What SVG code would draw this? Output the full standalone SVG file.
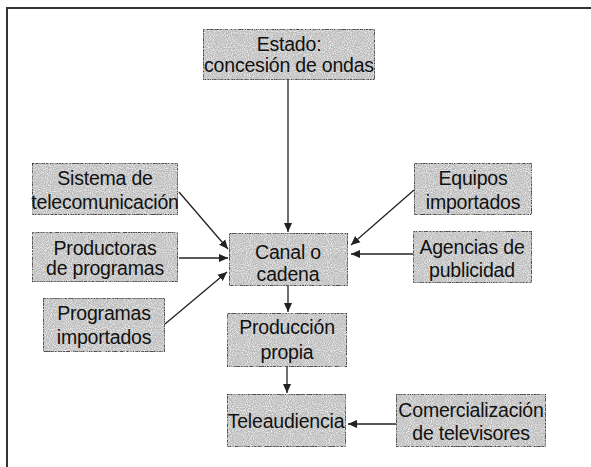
<svg xmlns="http://www.w3.org/2000/svg" width="591" height="467" viewBox="0 0 591 467">
<defs>
<style>
.box{fill:#bdbdbd;stroke:#2a2a2a;stroke-width:1.5}
.t{font-family:"Liberation Sans",Arial,sans-serif;font-size:19.5px;fill:#111;text-anchor:middle;letter-spacing:-0.2px}
.c{stroke:#222;stroke-width:1.3;fill:none;marker-end:url(#ah)}
</style>
<marker id="ah" viewBox="0 0 10 10" refX="10" refY="5" markerWidth="9" markerHeight="9" markerUnits="userSpaceOnUse" orient="auto">
<path d="M0,0.5 L10,5 L0,9.5 Z" fill="#222"/>
</marker>
<filter id="grain" x="0" y="0" width="100%" height="100%">
<feTurbulence type="fractalNoise" baseFrequency="0.95" numOctaves="1" seed="3" result="n"/>
<feColorMatrix in="n" type="matrix" values="0 0 0 0 1  0 0 0 0 1  0 0 0 0 1  0 0 0 -2.2 1.25" result="m"/>
<feComposite in="m" in2="SourceGraphic" operator="in" result="g"/>
<feMerge><feMergeNode in="SourceGraphic"/><feMergeNode in="g"/></feMerge>
</filter>
</defs>
<rect x="0" y="0" width="591" height="467" fill="#fff"/>
<path d="M7,467 V8 H591" fill="none" stroke="#333" stroke-width="2"/>

<g id="connectors">
<line class="c" x1="288" y1="80" x2="288" y2="232"/>
<line class="c" x1="179" y1="192" x2="228" y2="249"/>
<line class="c" x1="179" y1="258" x2="228" y2="258"/>
<line class="c" x1="165" y1="324" x2="227" y2="272"/>
<line class="c" x1="414" y1="190" x2="351" y2="245"/>
<line class="c" x1="413" y1="254" x2="351" y2="254"/>
<line class="c" x1="288" y1="286" x2="288" y2="312"/>
<line class="c" x1="287" y1="367" x2="287" y2="393"/>
<line class="c" x1="396" y1="424" x2="348" y2="424"/>
</g>

<g id="estado">
<rect class="box" x="203" y="29" width="172" height="51" filter="url(#grain)"/>
<text class="t" x="289" y="51">Estado:</text>
<text class="t" x="289" y="72">concesión de ondas</text>
</g>
<g id="sistema">
<rect class="box" x="32" y="163" width="146" height="52" filter="url(#grain)"/>
<text class="t" x="105" y="185">Sistema de</text>
<text class="t" x="105" y="209">telecomunicación</text>
</g>
<g id="productoras">
<rect class="box" x="32" y="232" width="146" height="50" filter="url(#grain)"/>
<text class="t" x="105" y="255">Productoras</text>
<text class="t" x="105" y="275">de programas</text>
</g>
<g id="programas">
<rect class="box" x="43" y="298" width="122" height="54" filter="url(#grain)"/>
<text class="t" x="104" y="320">Programas</text>
<text class="t" x="104" y="344">importados</text>
</g>
<g id="canal">
<rect class="box" x="229" y="233" width="119" height="53" filter="url(#grain)"/>
<text class="t" x="288" y="259">Canal o</text>
<text class="t" x="288" y="281">cadena</text>
</g>
<g id="equipos">
<rect class="box" x="414" y="163" width="118" height="52" filter="url(#grain)"/>
<text class="t" x="473" y="185">Equipos</text>
<text class="t" x="473" y="209">importados</text>
</g>
<g id="agencias">
<rect class="box" x="413" y="231" width="119" height="52" filter="url(#grain)"/>
<text class="t" x="472" y="254">Agencias de</text>
<text class="t" x="472" y="277">publicidad</text>
</g>
<g id="produccion">
<rect class="box" x="227" y="313" width="120" height="54" filter="url(#grain)"/>
<text class="t" x="287" y="334">Producción</text>
<text class="t" x="287" y="359">propia</text>
</g>
<g id="teleaudiencia">
<rect class="box" x="227" y="394" width="119" height="53" filter="url(#grain)"/>
<text class="t" x="286" y="428">Teleaudiencia</text>
</g>
<g id="comercializacion">
<rect class="box" x="396" y="394" width="150" height="53" filter="url(#grain)"/>
<text class="t" x="471" y="417">Comercialización</text>
<text class="t" x="471" y="440">de televisores</text>
</g>
</svg>
